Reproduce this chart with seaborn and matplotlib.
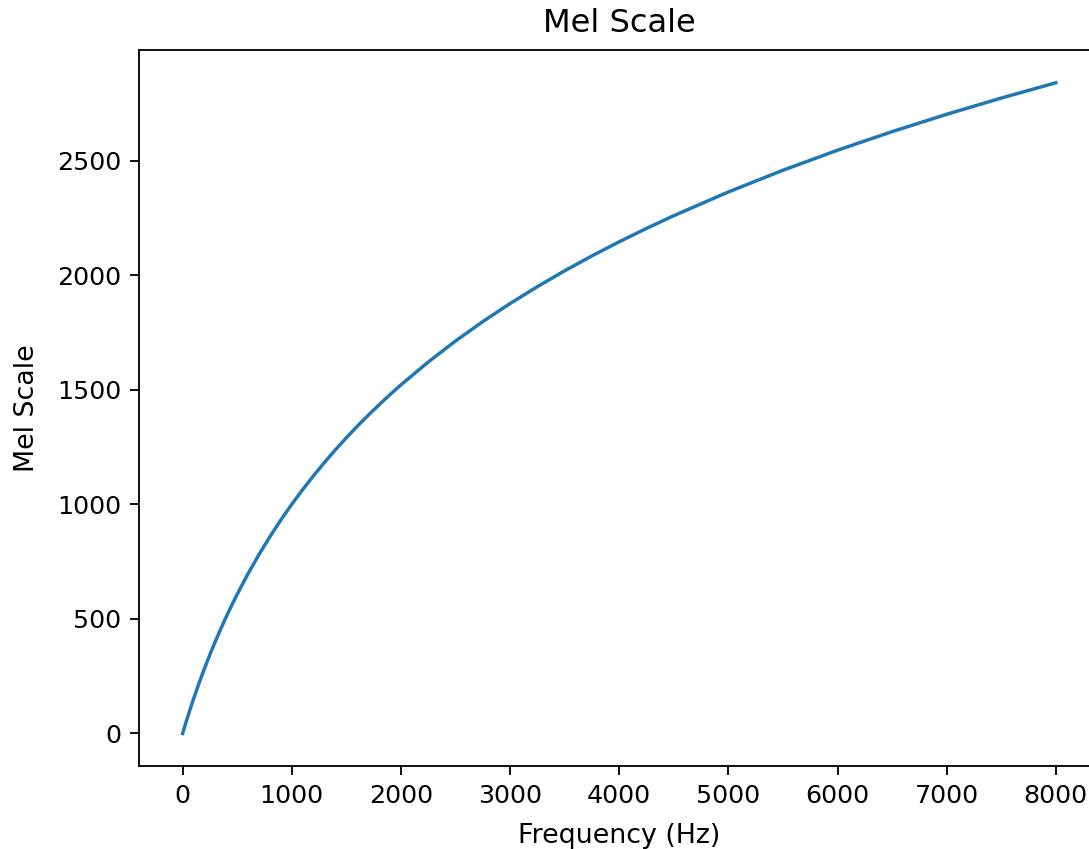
import pandas as pd
import matplotlib
matplotlib.use("Agg")
import matplotlib.pyplot as plt
import seaborn as sns

# values
freq_hz = [0, 25, 50, 75, 100, 150, 200, 250, 300, 350, 400, 450, 500, 600, 700, 800, 900,
           1000, 1100, 1200, 1300, 1400, 1500, 1600, 1700, 1800, 1900, 2000, 2250, 2500,
           2750, 3000, 3250, 3500, 3750, 4000, 4250, 4500, 5000, 5500, 6000, 6500, 7000,
           7500, 8000]
mel = [0, 39.5, 77.8, 114.7, 150.5, 218.8, 283.2, 344.2, 402.0, 457.0, 509.4, 559.5,
       607.4, 697.7, 781.2, 858.9, 931.7, 1000.0, 1064.4, 1125.3, 1183.1, 1238.1, 1290.5,
       1340.7, 1388.6, 1434.6, 1478.8, 1521.4, 1621.1, 1712.8, 1797.6, 1876.4, 1950.1,
       2019.3, 2084.4, 2146.0, 2204.5, 2259.9, 2363.5, 2458.2, 2545.6, 2626.8, 2702.4,
       2773.3, 2840.0]

df = pd.DataFrame({"Frequency (Hz)": freq_hz, "Mel Scale": mel})

fig = plt.figure(figsize=(7.26, 5.66), dpi=150)
ax = fig.add_axes([0.1276, 0.0978, 0.882, 0.843])
sns.lineplot(data=df, x="Frequency (Hz)", y="Mel Scale", ax=ax, color="#1f77b4", linewidth=1.65)
ax.set_title("Mel Scale", fontsize=15.4, pad=9)
ax.set_xlabel("Frequency (Hz)", fontsize=12.9, labelpad=7.5)
ax.set_ylabel("Mel Scale", fontsize=12.9, labelpad=8)
ax.set_xticks(range(0, 8001, 1000))
ax.set_yticks(range(0, 2501, 500))
ax.tick_params(labelsize=12.2, length=4.3, width=0.88, pad=4.2)
for s in ax.spines.values():
    s.set_linewidth(0.88)

fig.savefig("out.png", dpi=150)
